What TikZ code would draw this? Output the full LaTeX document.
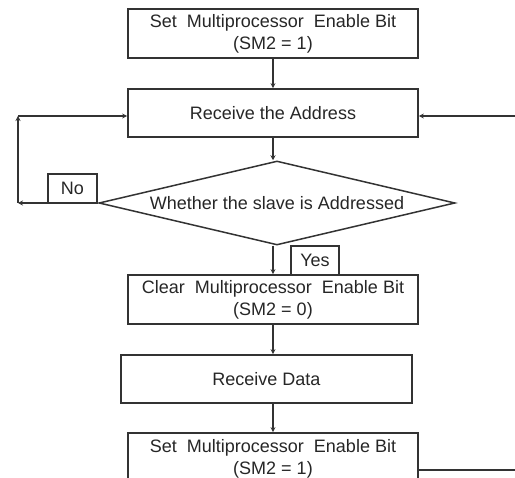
\documentclass[tikz,border=0pt]{standalone}
\usepackage{fontspec}
\setmainfont{Liberation Sans}
\usetikzlibrary{shapes.geometric,arrows.meta,calc}
\begin{document}
\begin{tikzpicture}[x=1pt,y=-1pt,
  every node/.style={font=\fontsize{18}{22}\selectfont, text=black!85},
  procbox/.style={draw=black!80, line width=1.7pt, rectangle, inner sep=0pt, align=center},
  lblbox/.style={draw=black!80, line width=1.5pt, rectangle, inner sep=0pt, minimum width=49pt, minimum height=29pt},
  decision/.style={draw=black!80, line width=1.5pt, diamond, aspect=4.24, inner sep=0pt, minimum width=356pt, minimum height=84pt},
  flow/.style={draw=black!80, line width=1.7pt, -{Stealth[length=5pt,width=5pt]}},
  plain/.style={draw=black!80, line width=1.7pt}]
\useasboundingbox (0,0) rectangle (515,478);
\clip (0,0) rectangle (515,478);
\node[procbox, minimum width=290pt, minimum height=49pt] (b1) at (273,33.5) {Set\ \ Multiprocessor\ \ Enable Bit\\(SM2 = 1)};
\node[procbox, minimum width=290pt, minimum height=48pt] (b2) at (273,113) {Receive the Address};
\node[decision] (d) at (277,203) {Whether the slave is Addressed};
\node[procbox, minimum width=290pt, minimum height=49pt] (b3) at (273,299.5) {Clear\ \ Multiprocessor\ \ Enable Bit\\(SM2 = 0)};
\node[procbox, minimum width=291pt, minimum height=48pt] (b4) at (266.5,379) {Receive Data};
\node[procbox, minimum width=290pt, minimum height=51pt] (b5) at (273,458.5) {Set\ \ Multiprocessor\ \ Enable Bit\\(SM2 = 1)};
\node[lblbox] (no) at (72.5,188.5) {No};
\node[lblbox, minimum width=48pt] (yes) at (315,260.5) {Yes};
\coordinate (l1) at (18,203);
\coordinate (l2) at (18,116);
\coordinate (r1) at (530,470);
\coordinate (r2) at (530,116);
\coordinate (c) at (273,0);
\draw[flow] (b1.south -| c) -- (b2.north -| c);
\draw[flow] (b2.south -| c) -- (d.north -| c);
\draw[flow] (d.south -| c) -- (b3.north -| c);
\draw[flow] (b3.south -| c) -- (b4.north -| c);
\draw[flow] (b4.south -| c) -- (b5.north -| c);
\draw[flow] (d.west) -- (l1);
\draw[flow] (l1) -- (l2);
\draw[flow] (l2) -- (b2.west |- l2);
\draw[plain] (b5.east |- r1) -- (r1) -- (r2);
\draw[flow] (r2) -- (b2.east |- r2);
\end{tikzpicture}
\end{document}
